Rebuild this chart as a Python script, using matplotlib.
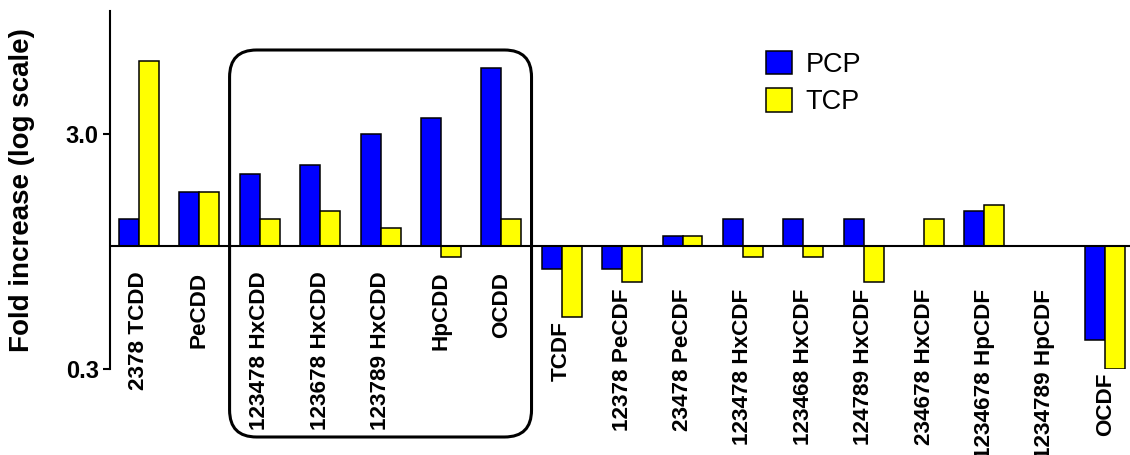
import numpy as np
import matplotlib
matplotlib.use("Agg")
import matplotlib.pyplot as plt
from matplotlib.patches import FancyBboxPatch
from matplotlib.transforms import IdentityTransform, blended_transform_factory
from matplotlib.ticker import NullLocator, FixedLocator

plt.rcParams['font.family'] = ['Liberation Sans', 'DejaVu Sans']

# congeners (first 7 are dioxins, the rest furans)
congeners = ["2378 TCDD", "PeCDD", "123478 HxCDD", "123678 HxCDD", "123789 HxCDD",
             "HpCDD", "OCDD", "TCDF", "12378 PeCDF", "23478 PeCDF", "123478 HxCDF",
             "123468 HxCDF", "124789 HxCDF", "234678 HxCDF", "1234678 HpCDF",
             "1234789 HpCDF", "OCDF"]
n_cdd = 7
# fold increase values (nan = no bar)
pcp = [1.30, 1.70, 2.02, 2.22, 3.00, 3.51, 5.73, 0.80, 0.80, 1.10, 1.30,
       1.30, 1.30, np.nan, 1.41, np.nan, 0.40]
tcp = [6.14, 1.70, 1.30, 1.41, 1.195, 0.90, 1.30, 0.50, 0.70, 1.10, 0.90,
       0.90, 0.70, 1.30, 1.50, np.nan, 0.30]
yticks = [0.3, 3.0]
ytick_labels = ["0.3", "3.0"]

W, H = 1130, 455
fig = plt.figure(figsize=(W / 100, H / 100), dpi=100)
ax = fig.add_axes([110 / W, (H - 369) / H, 1 - 110 / W, 358 / H])

x = np.arange(len(congeners))
bw = 0.331
for vals, color, off, name in [(pcp, "#0000ff", -bw / 2, "PCP"), (tcp, "#ffff00", bw / 2, "TCP")]:
    v = np.array(vals)
    ok = ~np.isnan(v)
    ax.bar(x[ok] + off, v[ok] - 1, bottom=1, width=bw, color=color,
           edgecolor="black", linewidth=1.1, label=name, zorder=2)

ax.set_yscale("log")
ax.set_ylim(0.3, 10)
ax.set_xlim(-0.48, 16.41)
ax.axhline(1, color="black", linewidth=1.5, zorder=3)

for s in ["top", "right", "bottom"]:
    ax.spines[s].set_visible(False)
ax.spines["left"].set_linewidth(1.5)
ax.set_xticks([])
ax.yaxis.set_major_locator(FixedLocator(yticks))
ax.yaxis.set_minor_locator(NullLocator())
ax.set_yticklabels(ytick_labels, fontsize=17, fontweight="bold")
ax.tick_params(axis="y", length=5, width=1.5, pad=3)
ax.set_ylabel("Fold increase (log scale)", fontsize=20, fontweight="bold", labelpad=22)

# category labels, pushed below any bar that hangs under the baseline
trans = blended_transform_factory(ax.transData, ax.transAxes)
lo, hi = np.log10(0.3), np.log10(10)
for i, name in enumerate(congeners):
    ytop = 0.272 if i < n_cdd else 0.2247
    vals = [v for v in (pcp[i], tcp[i]) if not np.isnan(v)]
    if vals:
        vmin = min(vals)
        ybar = (np.log10(vmin) - lo) / (hi - lo) - 4 / 358
        ytop = min(ytop, ybar)
    ax.text(i, ytop, name, transform=trans, rotation=90, ha="center", va="top",
            fontsize=16.2, fontweight="bold", clip_on=False)

# rounded box around the hexa/hepta/octa dioxins
fig.canvas.draw()
x0 = ax.transData.transform((1.5, 1))[0]
x1 = ax.transData.transform((6.5, 1))[0]
box = FancyBboxPatch((x0, H - 437), x1 - x0, 437 - 50,
                     boxstyle="round,pad=0,rounding_size=27",
                     transform=IdentityTransform(), fill=False,
                     edgecolor="black", linewidth=2.2, zorder=5)
fig.add_artist(box)

fig.legend(loc="upper left", bbox_to_anchor=(766 / W, 1 - 51 / H), frameon=False,
           fontsize=19.5, handlelength=0.95, handleheight=0.95, handletextpad=0.5,
           labelspacing=0.38, borderpad=0, borderaxespad=0)

fig.savefig("out.png", dpi=100)
